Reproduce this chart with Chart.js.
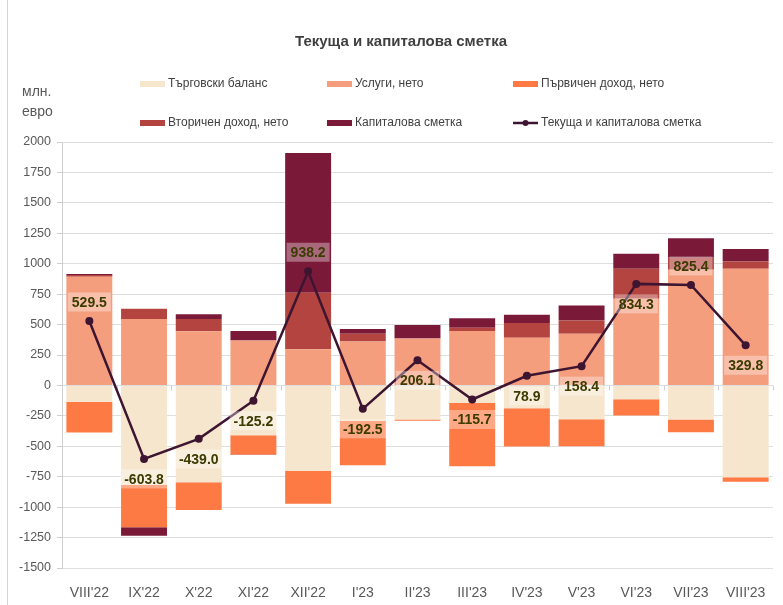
<!DOCTYPE html>
<html><head><meta charset="utf-8">
<script src="https://cdn.jsdelivr.net/npm/chart.js@4"></script>
<style>
html,body{margin:0;padding:0;background:#fff;}
#wrap{position:relative;width:783px;height:605px;}
#frame{position:absolute;left:7px;top:0;width:1px;height:605px;background:#d4d4d4;}
</style>
</head><body>
<div id="wrap"><canvas id="c" width="783" height="605"></canvas><div id="frame"></div></div>
<script>
const categories = ["VIII'22","IX'22","X'22","XI'22","XII'22","I'23","II'23","III'23","IV'23","V'23","VI'23","VII'23","VIII'23"];
const trade     = [-137, -815, -795, -410, -700, -290, -280, -145, -187, -278, -113, -280, -755];
const services  = [893, 545, 445, 370, 298, 361, 386, 447, 391, 424, 712, 950, 959];
const primary   = [-250, -350, -229, -157, -272, -365, -10, -520, -315, -221, -135, -105, -36];
const secondary = [15, 85, 100, -5, 463, 63, 0, 27, 121, 110, 247, 100, 60];
const capital   = [8, -70, 40, 77, 1149, 39, 110, 77, 69, 123, 123, 160, 102];
const balance   = [529.5, -603.8, -439.0, -125.2, 938.2, -192.5, 206.1, -115.7, 78.9, 158.4, 834.3, 825.4, 329.8];
const seriesNames = ["Търговски баланс","Услуги, нето","Първичен доход, нето","Вторичен доход, нето","Капиталова сметка","Текуща и капиталова сметка"];
const chartTitle = "Текуща и капиталова сметка";
const unitLines = ["млн.","евро"];
const labelAbove = [true,false,false,false,true,false,false,false,false,false,false,true,false];

const FONT = "'Liberation Sans Narrow','Liberation Sans',Arial,sans-serif";
const colors = ["#F6E6CD","#F49E7E","#FE7A45","#B4443F","#7B1A38","#3D1530"];

const zeroTicksPlugin = {
  id:'zeroTicks',
  beforeDatasetsDraw(chart){
    const ctx = chart.ctx, xs = chart.scales.x, ys = chart.scales.y;
    const y0 = ys.getPixelForValue(0);
    const step = xs.width / categories.length;
    ctx.save();
    ctx.strokeStyle = '#d0d0d0'; ctx.lineWidth = 1;
    for (let i = 1; i <= categories.length; i++) {
      const x = Math.round(xs.left + step * i) + 0.5;
      ctx.beginPath(); ctx.moveTo(x, y0); ctx.lineTo(x, y0 + 5); ctx.stroke();
    }
    ctx.restore();
  }
};

const decorPlugin = {
  id:'decor',
  afterDraw(chart){
    const ctx = chart.ctx;
    ctx.save();
    ctx.fillStyle = '#404040';
    ctx.font = "bold 15px 'Liberation Sans',Arial,sans-serif";
    ctx.textAlign = 'center'; ctx.textBaseline = 'middle';
    ctx.fillText(chartTitle, 401, 42);
    ctx.fillStyle = '#595959';
    ctx.font = "14px " + FONT;
    ctx.textAlign = 'left';
    ctx.fillText(unitLines[0], 22, 92);
    ctx.fillText(unitLines[1], 22, 112);
    const colX = [140, 327, 513];
    const rowY = [84, 123];
    ctx.font = "12px " + FONT;
    chart.data.datasets.forEach((ds, i) => {
      const x = colX[i % 3], y = rowY[Math.floor(i / 3)];
      if (ds.type === 'line') {
        ctx.strokeStyle = ds.borderColor; ctx.lineWidth = 2.5;
        ctx.beginPath(); ctx.moveTo(x, y); ctx.lineTo(x + 25, y); ctx.stroke();
        ctx.fillStyle = ds.borderColor;
        ctx.beginPath(); ctx.arc(x + 12.5, y, 3, 0, Math.PI * 2); ctx.fill();
      } else {
        ctx.fillStyle = ds.backgroundColor;
        ctx.fillRect(x, y - 3, 25, 6);
      }
      ctx.fillStyle = '#404040';
      ctx.fillText(ds.label, x + 28, y);
    });
    ctx.restore();
  }
};

const labelPlugin = {
  id:'valueLabels',
  afterDatasetsDraw(chart){
    const ctx = chart.ctx;
    const meta = chart.getDatasetMeta(5);
    ctx.save();
    ctx.font = "bold 14px " + FONT;
    ctx.textAlign = 'center'; ctx.textBaseline = 'middle';
    meta.data.forEach((pt, i) => {
      const txt = balance[i].toFixed(1);
      const w = ctx.measureText(txt).width + 8, h = 19;
      const cy = labelAbove[i] ? pt.y - 19 : pt.y + 20;
      ctx.fillStyle = 'rgba(255,255,255,0.35)';
      ctx.fillRect(pt.x - w / 2, cy - h / 2, w, h);
      ctx.fillStyle = '#3b3b02';
      ctx.fillText(txt, pt.x, cy + 1);
    });
    ctx.restore();
  }
};

const barSets = [trade, services, primary, secondary, capital].map((arr, i) => ({
  type:'bar', label: seriesNames[i], data: arr, backgroundColor: colors[i],
  borderWidth: 0, barPercentage: 0.84, categoryPercentage: 1.0, order: 1
}));

new Chart(document.getElementById('c'), {
  data: {
    labels: categories,
    datasets: [...barSets, {
      type:'line', label: seriesNames[5], data: balance, stack:'line',
      borderColor: colors[5], backgroundColor: colors[5], borderWidth: 2.5,
      pointRadius: 4, pointBackgroundColor: colors[5], pointBorderWidth: 0,
      tension: 0, order: 0
    }]
  },
  options: {
    responsive: false, animation: false,
    layout: { padding: { top: 142, right: 10, left: 0, bottom: 0 } },
    plugins: { legend: { display: false }, tooltip: { enabled: false }, title: { display: false } },
    scales: {
      x: {
        stacked: true,
        grid: { display: false },
        border: { display: false },
        ticks: { color: '#595959', font: { size: 14, family: FONT }, padding: 9, maxRotation: 0 },
        afterFit(s){ s.height = 37; }
      },
      y: {
        stacked: true, min: -1500, max: 2000,
        ticks: { stepSize: 250, color: '#595959', font: { size: 12.5, family: FONT }, padding: 6,
                 callback: (v) => String(v) },
        grid: { color: '#dedede', tickColor: '#d0d0d0', tickLength: 5 },
        border: { color: '#d0d0d0' },
        afterFit(s){ s.width = 62; }
      }
    }
  },
  plugins: [zeroTicksPlugin, labelPlugin, decorPlugin]
});
</script>
</body></html>
